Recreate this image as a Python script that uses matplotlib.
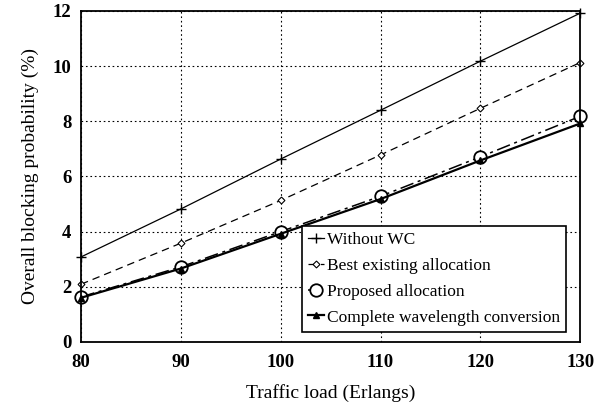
import numpy as np
import matplotlib
matplotlib.use("Agg")
import matplotlib.pyplot as plt

plt.rcParams["font.family"] = ["Liberation Serif", "DejaVu Serif"]

load = [80, 90, 100, 110, 120, 130]
without_wc = [3.08, 4.82, 6.63, 8.40, 10.18, 11.92]
best_existing = [2.09, 3.58, 5.13, 6.78, 8.47, 10.13]
proposed = [1.63, 2.72, 4.00, 5.28, 6.71, 8.18]
complete_wc = [1.60, 2.66, 3.92, 5.18, 6.58, 7.92]

x_ticks = [80, 90, 100, 110, 120, 130]
y_ticks = [0, 2, 4, 6, 8, 10, 12]

fig = plt.figure(figsize=(6.0, 4.07), dpi=100)
ax = fig.add_axes([0.135, 0.160, 0.832, 0.813])

ax.plot(load, without_wc, color="black", lw=0.9, marker="+", ms=7, mew=1.0,
        label="Without WC", clip_on=False)
ax.plot(load, best_existing, color="black", lw=0.9, ls=(0, (6, 4)), marker="D", ms=3.5,
        mfc="white", mew=0.8, label="Best existing allocation", clip_on=False)
ax.plot(load, proposed, color="black", lw=1.1, ls=(0, (9, 3, 2, 3)), marker="o", ms=9,
        mfc="white", mew=1.3, label="Proposed allocation", clip_on=False)
ax.plot(load, complete_wc, color="black", lw=1.6, marker="^", ms=5,
        mfc="black", label="Complete wavelength conversion", clip_on=False)

ax.set_xlim(80, 130)
ax.set_ylim(0, 12)
ax.set_xticks(x_ticks)
ax.set_yticks(y_ticks)
ax.grid(True, color="black", ls=(0, (1.5, 2.5)), lw=0.8)
for s in ax.spines.values():
    s.set_linewidth(1.3)
ax.tick_params(direction="in", length=0, labelsize=13.5)
ax.tick_params(axis="x", pad=9)
ax.tick_params(axis="y", pad=7)
for lab in ax.get_xticklabels() + ax.get_yticklabels():
    lab.set_fontweight("bold")

ax.set_xlabel("Traffic load (Erlangs)", fontsize=14, labelpad=9)
ax.set_ylabel("Overall blocking probability (%)", fontsize=14, labelpad=10)

leg = ax.legend(loc="lower right", bbox_to_anchor=(0.972, 0.031), fontsize=12.5,
                frameon=True, fancybox=False, edgecolor="black", framealpha=1,
                handlelength=0.9, handletextpad=0.2, borderpad=0.35,
                labelspacing=0.55, borderaxespad=0)
leg.get_frame().set_linewidth(1.2)

fig.savefig("out.png", dpi=100)
